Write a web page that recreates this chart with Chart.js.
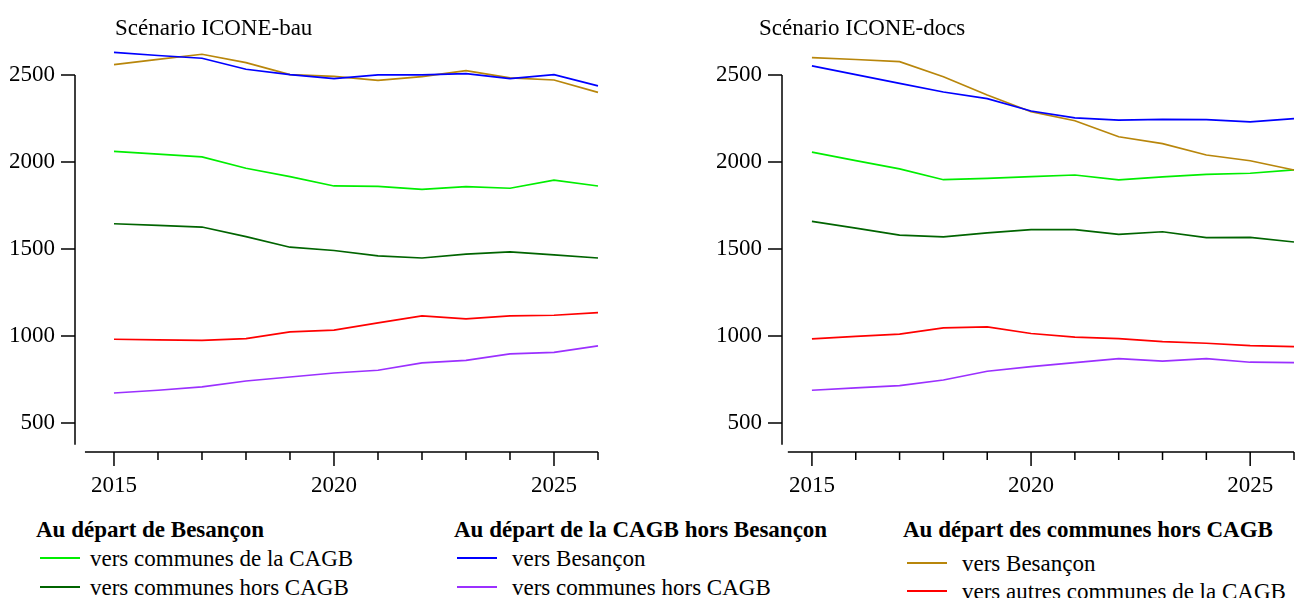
<!DOCTYPE html>
<html>
<head>
    <title>Scénarios ICONE</title>
    <script src="https://cdn.jsdelivr.net/npm/chart.js"></script>
    <style>
        body { margin: 0; background: #fff; font-family: 'Liberation Serif', serif; color: #000; }
        #page { position: relative; width: 1295px; height: 598px; overflow: hidden; }
        canvas { position: absolute; top: 0; }
        .txt { position: absolute; font-size: 23px; line-height: 23px; white-space: nowrap; }
        .hdr { font-weight: bold; }
        .smp { position: absolute; width: 40px; height: 0; border-top: 2px solid; }
    </style>
</head>
<body>
<div id="page">
    <canvas id="bau" width="650" height="500" style="left:0"></canvas>
    <canvas id="docs" width="645" height="500" style="left:650px"></canvas>
    <div class="txt" style="left:115px; top:16px">Scénario ICONE-bau</div>
    <div class="txt" style="left:759px; top:16px">Scénario ICONE-docs</div>
    <div id="legend"></div>
</div>

<script>
    var years = [2015, 2016, 2017, 2018, 2019, 2020, 2021, 2022, 2023, 2024, 2025, 2026];
    var yTicks = [500, 1000, 1500, 2000, 2500];
    var xLabels = [2015, 2020, 2025];

    // scénario bau
    var bauBesToCagb  = [2061, 2045, 2029, 1964, 1916, 1862, 1860, 1843, 1858, 1849, 1895, 1862];
    var bauBesToHors  = [1645, 1636, 1626, 1571, 1510, 1491, 1460, 1448, 1470, 1483, 1466, 1448];
    var bauCagbToBes  = [2630, 2612, 2596, 2533, 2502, 2479, 2500, 2500, 2508, 2479, 2502, 2437];
    var bauCagbToHors = [672, 688, 707, 741, 764, 787, 803, 845, 860, 897, 906, 943];
    var bauHorsToBes  = [2559, 2590, 2619, 2571, 2502, 2492, 2469, 2490, 2525, 2483, 2471, 2400];
    var bauHorsToCagb = [981, 978, 975, 985, 1023, 1034, 1075, 1115, 1098, 1115, 1119, 1134];

    // scénario docs
    var docsBesToCagb  = [2057, 2008, 1960, 1898, 1906, 1916, 1925, 1897, 1914, 1929, 1935, 1954];
    var docsBesToHors  = [1659, 1620, 1580, 1569, 1592, 1611, 1611, 1584, 1599, 1565, 1567, 1540];
    var docsCagbToBes  = [2552, 2502, 2452, 2402, 2364, 2293, 2253, 2240, 2245, 2243, 2230, 2249];
    var docsCagbToHors = [688, 701, 714, 747, 797, 824, 847, 870, 855, 870, 849, 847];
    var docsHorsToBes  = [2600, 2589, 2577, 2490, 2385, 2289, 2237, 2145, 2105, 2040, 2007, 1954];
    var docsHorsToCagb = [983, 997, 1011, 1046, 1052, 1014, 993, 985, 967, 958, 944, 939];

    var colors = {
        besToCagb: '#00ee00',
        besToHors: '#006400',
        cagbToBes: '#0000ff',
        cagbToHors: '#9b30ff',
        horsToBes: '#b8860b',
        horsToCagb: '#ff0000'
    };

    var legendGroups = [
        { title: 'Au départ de Besançon', hx: 36, lx: 40, tx: 90, rows: [558, 587],
          items: [['vers communes de la CAGB', colors.besToCagb], ['vers communes hors CAGB', colors.besToHors]] },
        { title: 'Au départ de la CAGB hors Besançon', hx: 454, lx: 457, tx: 512, rows: [558, 587],
          items: [['vers Besançon', colors.cagbToBes], ['vers communes hors CAGB', colors.cagbToHors]] },
        { title: 'Au départ des communes hors CAGB', hx: 903, lx: 907, tx: 962, rows: [563, 591],
          items: [['vers Besançon', colors.horsToBes], ['vers autres communes de la CAGB', colors.horsToCagb]] }
    ];

    var legend = document.getElementById('legend');
    legendGroups.forEach(function(g) {
        var h = document.createElement('div');
        h.className = 'txt hdr';
        h.style.left = g.hx + 'px';
        h.style.top = '518px';
        h.textContent = g.title;
        legend.appendChild(h);
        g.items.forEach(function(it, i) {
            var s = document.createElement('div');
            s.className = 'smp';
            s.style.left = g.lx + 'px';
            s.style.top = (g.rows[i] - 1) + 'px';
            s.style.borderTopColor = it[1];
            legend.appendChild(s);
            var t = document.createElement('div');
            t.className = 'txt';
            t.style.left = g.tx + 'px';
            t.style.top = (g.rows[i] - 11) + 'px';
            t.textContent = it[0];
            legend.appendChild(t);
        });
    });

    Chart.defaults.font.family = "'Liberation Serif', serif";
    Chart.defaults.font.size = 23;
    Chart.defaults.color = '#000';

    // axes drawn by hand: detached R-like lines
    var axesPlugin = {
        id: 'handAxes',
        afterDraw: function(chart, args, opts) {
            var ctx = chart.ctx, xs = chart.scales.x, ys = chart.scales.y;
            var left = chart.chartArea.left, bottom = chart.chartArea.bottom;
            ctx.save();
            ctx.strokeStyle = '#000';
            ctx.lineWidth = 1.5;
            ctx.beginPath();
            ctx.moveTo(left, ys.getPixelForValue(2500));
            ctx.lineTo(left, ys.getPixelForValue(opts.yEnd));
            yTicks.forEach(function(v) {
                var py = ys.getPixelForValue(v);
                ctx.moveTo(left - 14, py);
                ctx.lineTo(left, py);
            });
            ctx.moveTo(xs.getPixelForValue(opts.xStart), bottom);
            ctx.lineTo(xs.getPixelForValue(2026), bottom);
            years.forEach(function(v) {
                var px = xs.getPixelForValue(v);
                ctx.moveTo(px, bottom);
                ctx.lineTo(px, bottom + (v % 5 === 0 ? 14 : 8));
            });
            ctx.stroke();
            ctx.restore();
        }
    };

    function makeChart(id, series, cfg) {
        var order = ['cagbToBes', 'horsToBes', 'besToCagb', 'besToHors', 'horsToCagb', 'cagbToHors'];
        var datasets = order.map(function(k) {
            return {
                label: k,
                data: series[k].map(function(v, i) { return { x: years[i], y: v }; }),
                borderColor: colors[k],
                borderWidth: 1.7,
                pointRadius: 0,
                fill: false,
                tension: 0,
                clip: false
            };
        });
        return new Chart(document.getElementById(id), {
            type: 'line',
            data: { datasets: datasets },
            plugins: [axesPlugin],
            options: {
                responsive: false,
                animation: false,
                layout: { padding: { top: 40, right: cfg.padRight, left: 0, bottom: 0 } },
                plugins: {
                    legend: { display: false },
                    tooltip: { enabled: false },
                    handAxes: { xStart: cfg.xStart, yEnd: 374 }
                },
                scales: {
                    x: {
                        type: 'linear',
                        min: cfg.xMin,
                        max: 2026,
                        grid: { display: false, drawTicks: false },
                        border: { display: false },
                        afterBuildTicks: function(s) { s.ticks = xLabels.map(function(v) { return { value: v }; }); },
                        afterFit: function(s) { s.height = 48; },
                        ticks: { font: { family: "'Liberation Serif', serif", size: 23 }, color: '#000',
                                 padding: 20, maxRotation: 0, autoSkip: false,
                                 callback: function(v) { return String(v); } }
                    },
                    y: {
                        min: 333,
                        max: 2701,
                        grid: { display: false, drawTicks: false },
                        border: { display: false },
                        afterBuildTicks: function(s) { s.ticks = yTicks.map(function(v) { return { value: v }; }); },
                        afterFit: function(s) { s.width = cfg.yWidth; },
                        ticks: { font: { family: "'Liberation Serif', serif", size: 23 }, color: '#000',
                                 padding: 20, callback: function(v) { return String(v); } }
                    }
                }
            }
        });
    }

    makeChart('bau', {
        besToCagb: bauBesToCagb, besToHors: bauBesToHors, cagbToBes: bauCagbToBes,
        cagbToHors: bauCagbToHors, horsToBes: bauHorsToBes, horsToCagb: bauHorsToCagb
    }, { xMin: 2014.114, xStart: 2014.34, yWidth: 75, padRight: 52 });

    makeChart('docs', {
        besToCagb: docsBesToCagb, besToHors: docsBesToHors, cagbToBes: docsCagbToBes,
        cagbToHors: docsCagbToHors, horsToBes: docsHorsToBes, horsToCagb: docsHorsToCagb
    }, { xMin: 2014.317, xStart: 2014.45, yWidth: 132, padRight: 1 });
</script>
</body>
</html>
